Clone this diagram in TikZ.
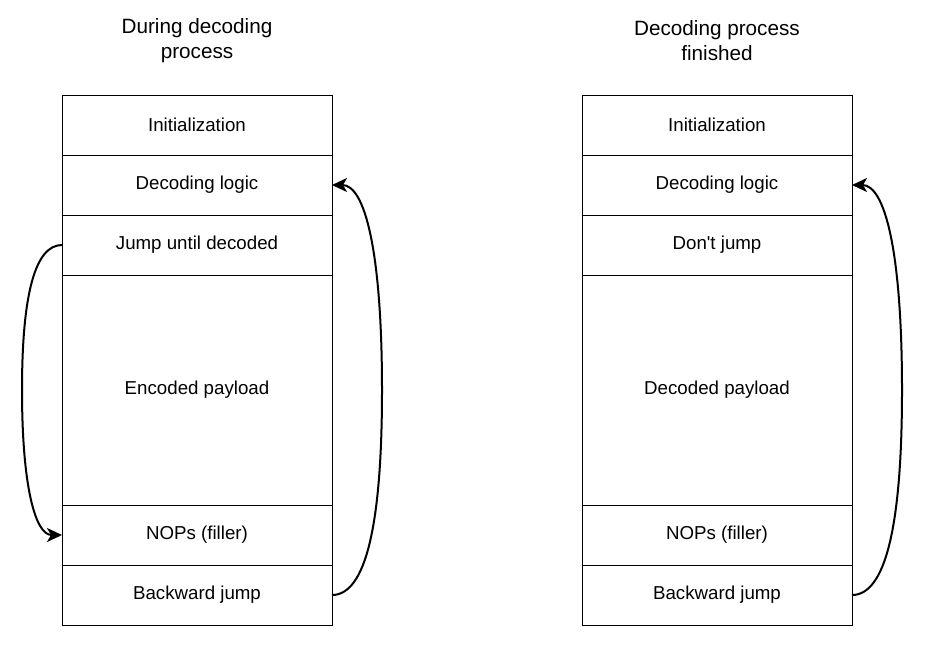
\documentclass[tikz,border=0pt]{standalone}
\usepackage{fontspec}
\setmainfont{Liberation Sans}[Ligatures=TeXOff]
\usetikzlibrary{arrows.meta,calc}
\begin{document}
\begin{tikzpicture}[x=1pt,y=-1pt,
 cell/.style={draw,line width=1pt,minimum width=270pt,inner sep=0pt,outer sep=0pt,
   font=\fontsize{18.7}{22}\selectfont,anchor=north west},
 row/.style={cell,minimum height=60pt},
 big/.style={cell,minimum height=230pt},
 title/.style={align=center,font=\fontsize{20.7}{25}\selectfont},
 loopline/.style={line width=2pt,-{Stealth[length=15pt,width=14pt,inset=4pt]}}]
\useasboundingbox (0,0) rectangle (944,649);
% titles
\node[title] (Lt) at (197,40.5) {During decoding\\process};
\node[title] (Rt) at (717,40.5) {Decoding process\\finished};
% left column
\node[row] (Li) at (62,95) {Initialization};
\node[row] (Ld) at (62,155) {Decoding logic};
\node[row] (Lj) at (62,215) {Jump until decoded};
\node[big] (Lp) at (62,275) {Encoded payload};
\node[row] (Ln) at (62,505) {NOPs (filler)};
\node[row] (Lb) at (62,565) {Backward jump};
% right column
\node[row] (Ri) at (582,95) {Initialization};
\node[row] (Rd) at (582,155) {Decoding logic};
\node[row] (Rj) at (582,215) {Don't jump};
\node[big] (Rp) at (582,275) {Decoded payload};
\node[row] (Rn) at (582,505) {NOPs (filler)};
\node[row] (Rb) at (582,565) {Backward jump};
% helper coordinates
\coordinate (lm) at ($(Lj.west)!0.5!(Ln.west)+(-40,0)$);
\coordinate (rm) at ($(Lb.east)!0.5!(Ld.east)+(50,0)$);
\coordinate (rrm) at ($(Rb.east)!0.5!(Rd.east)+(50,0)$);
% connectors
\draw[loopline] (Lj.west) .. controls ($(Lj.west)+(-26.67,0)$) and ($(lm)+(0,-96.67)$) .. (lm)
  .. controls ($(lm)+(0,96.67)$) and ($(Ln.west)+(-26.67,0)$) .. (Ln.west);
\draw[loopline] (Lb.east) .. controls ($(Lb.east)+(33.33,0)$) and ($(rm)+(0,136.67)$) .. (rm)
  .. controls ($(rm)+(0,-136.67)$) and ($(Ld.east)+(33.33,0)$) .. (Ld.east);
\draw[loopline] (Rb.east) .. controls ($(Rb.east)+(33.33,0)$) and ($(rrm)+(0,136.67)$) .. (rrm)
  .. controls ($(rrm)+(0,-136.67)$) and ($(Rd.east)+(33.33,0)$) .. (Rd.east);
\end{tikzpicture}
\end{document}
